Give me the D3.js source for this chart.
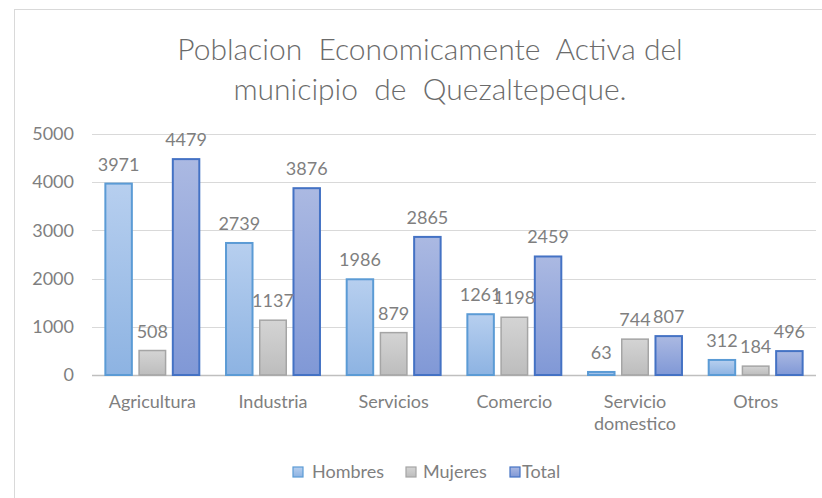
<!DOCTYPE html>
<html><head><meta charset="utf-8">
<script src="https://cdn.jsdelivr.net/npm/d3@7"></script>
<style>body{margin:0;background:#fff;}svg{display:block;font-family:Lato,"Open Sans",sans-serif;}</style>
</head><body>
<svg id="c" width="822" height="498"></svg>
<script>
const categories = ["Agricultura","Industria","Servicios","Comercio","Servicio domestico","Otros"];
const seriesNames = ["Hombres","Mujeres","Total"];
const hombres = [3971,2739,1986,1261,63,312];
const mujeres = [508,1137,879,1198,744,184];
const total = [4479,3876,2865,2459,807,496];
const yTicks = [0,1000,2000,3000,4000,5000];

const svg = d3.select("#c");
const defs = svg.append("defs");
const styles = [
  {top:"#b7cfef", bot:"#8db3e2", stroke:"#5b9bd5"},
  {top:"#d4d4d4", bot:"#bdbdbd", stroke:"#a5a5a5"},
  {top:"#abb9e2", bot:"#8098d6", stroke:"#4472c4"}
];
styles.forEach((s,i)=>{
  const g = defs.append("linearGradient").attr("id","g"+i).attr("x1",0).attr("y1",0).attr("x2",0).attr("y2",1);
  g.append("stop").attr("offset","0%").attr("stop-color",s.top);
  g.append("stop").attr("offset","100%").attr("stop-color",s.bot);
});

// frame
svg.append("rect").attr("x",14.5).attr("y",9.5).attr("width",830).attr("height",500)
  .attr("fill","none").attr("stroke","#d9d9d9");

const txt = "#7f7f7f";
const ff = "Lato,'Open Sans',sans-serif";
svg.append("text").attr("x",430).attr("y",60).attr("text-anchor","middle").style("white-space","pre")
  .attr("font-size",30).attr("fill","#6b6b6b").attr("font-weight",300).text("Poblacion  Economicamente  Activa del");
svg.append("text").attr("x",430).attr("y",100).attr("text-anchor","middle").style("white-space","pre")
  .attr("font-size",30).attr("fill","#6b6b6b").attr("font-weight",300).text("municipio  de  Quezaltepeque.");

const x0 = d3.scaleBand().domain(categories).range([92,816]).paddingInner(0.209).paddingOuter(0.1045);
const x1 = d3.scaleBand().domain(seriesNames).range([0,x0.bandwidth()]).paddingInner(0.17);
const y = d3.scaleLinear().domain([0,5000]).range([375,134]);

// gridlines
svg.append("g").selectAll("line").data(yTicks).join("line")
  .attr("x1",92).attr("x2",816).attr("y1",d=>Math.round(y(d))+0.5).attr("y2",d=>Math.round(y(d))+0.5)
  .attr("stroke",d=>d===0?"#bfbfbf":"#d9d9d9").attr("stroke-width",d=>d===0?1.5:1);

// y axis
const yAxis = d3.axisLeft(y).tickValues(yTicks).tickFormat(d3.format("d")).tickSize(0).tickPadding(0);
const ya = svg.append("g").attr("transform","translate(74,0)").call(yAxis);
ya.select(".domain").remove();
ya.selectAll("text").attr("font-size",18).attr("fill",txt).attr("font-family",ff);

// x axis
const xAxis = d3.axisBottom(x0).tickSize(0).tickPadding(0);
const xa = svg.append("g").attr("transform","translate(0,408)").call(xAxis);
xa.select(".domain").remove();
xa.selectAll("text").attr("font-size",18).attr("fill",txt).attr("font-family",ff).attr("dy",0)
  .each(function(d){
    const t = d3.select(this);
    const parts = d.split(" ");
    if(parts.length>1){
      t.text(null);
      parts.forEach((p,i)=>t.append("tspan").attr("x",0).attr("dy",i===0?0:22).text(p));
    }
  });

const data = [hombres,mujeres,total];
categories.forEach((c,ci)=>{
  const g = svg.append("g").attr("transform",`translate(${x0(c)},0)`);
  seriesNames.forEach((s,si)=>{
    const v = data[si][ci];
    g.append("rect").attr("x",x1(s)+0.75).attr("y",y(v)).attr("width",x1.bandwidth()-1.5)
      .attr("height",y(0)-y(v)).attr("fill",`url(#g${si})`).attr("stroke",styles[si].stroke).attr("stroke-width",si===1?1.5:2);
  });
});
categories.forEach((c,ci)=>{
  const g = svg.append("g").attr("transform",`translate(${x0(c)},0)`);
  seriesNames.forEach((s,si)=>{
    const v = data[si][ci];
    g.append("text").attr("x",x1(s)+x1.bandwidth()/2).attr("y",y(v)-13).attr("text-anchor","middle")
      .attr("font-size",18).attr("fill",txt).text(v);
  });
});

// legend
const legX = [293,406,510];
const legTX = [312,423,522];
seriesNames.forEach((s,i)=>{
  svg.append("rect").attr("x",legX[i]).attr("y",467).attr("width",10).attr("height",10)
    .attr("fill",`url(#g${i})`).attr("stroke",styles[i].stroke).attr("stroke-width",1.2);
  svg.append("text").attr("x",legTX[i]).attr("y",478).attr("font-size",18).attr("fill",txt).text(s);
});
</script>
</body></html>
